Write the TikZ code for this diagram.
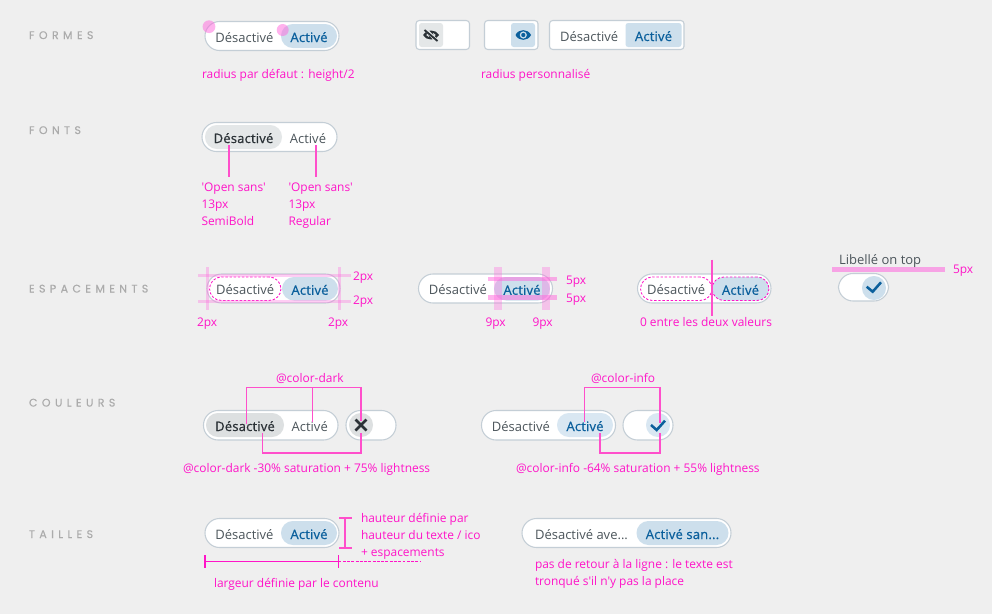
\documentclass[tikz,border=0pt]{standalone}
\usepackage{fontspec}
\setmainfont[Ligatures=TeXOff]{Open Sans}
\newfontfamily\headfont[LetterSpace=40,FakeBold=0.25]{Poppins}
\newfontfamily\semifont[FakeBold=0.7,LetterSpace=1.5]{Open Sans}
\definecolor{bg}{HTML}{EFEFEF}
\definecolor{rim}{HTML}{C4CED6}
\definecolor{txtgrey}{HTML}{4C555B}
\definecolor{darktxt}{HTML}{2A3136}
\definecolor{infotxt}{HTML}{0A5F9C}
\definecolor{infofill}{HTML}{CDDFEC}
\definecolor{infolight}{HTML}{D9E7F2}
\definecolor{darkfill}{HTML}{E4E7E8}
\definecolor{darkfilltwo}{HTML}{DDE0E1}
\definecolor{pk}{HTML}{FF14C8}
\definecolor{pkline}{HTML}{FF4FCB}
\definecolor{pkband}{HTML}{FF66DD}
\tikzset{
  base/.style={inner sep=0pt,outer sep=0pt},
  outerpill/.style={base,draw=rim,line width=.8pt,fill=white,rounded corners=10.9pt},
  outersq/.style={base,draw=rim,line width=.8pt,fill=white,rounded corners=2.4pt},
  seginner/.style={base,rounded corners=8.9pt,font=\fontsize{9.75pt}{12pt}\selectfont,text height=9pt,text depth=0pt},
  off/.style={seginner,text=txtgrey},
  on/.style={seginner,fill=infofill,text=infotxt,font=\fontsize{9.75pt}{12pt}\semifont},
  onlight/.style={on,fill=infolight},
  strong/.style={seginner,fill=darkfill,text=darktxt,font=\fontsize{9.75pt}{12pt}\semifont},
  strongtwo/.style={strong,fill=darkfilltwo},
  sq/.style={rounded corners=2pt},
  dashedpk/.style={draw=pk,line width=.65pt,dash pattern=on 1.8pt off 1.3pt},
  note/.style={base,anchor=west,text=pk,font=\fontsize{8.95pt}{10pt}\selectfont,text height=7pt,text depth=2pt,yshift=-0.75pt},
  head/.style={base,anchor=west,text=black!33,font=\fontsize{8.25pt}{10pt}\headfont,text height=6pt,text depth=0pt},
  lead/.style={draw=pkline,line width=1pt},
  band/.style={fill=pkband,opacity=.5,draw=none},
  thinband/.style={fill=pkband,opacity=.32,draw=none},
  icon/.style={line width=1.9pt,line cap=butt,line join=miter},
}
\newcommand{\seg}[7][off]{\node[#1,minimum width={(#5-#3)*0.75pt},minimum height={(#6-#4)*0.75pt}] (#2) at ({(#3+#5)/2},{(#4+#6)/2}) {#7};}
\newcommand{\note}[4]{\node[note] (#1) at (#2,#3) {#4};}
\begin{document}
\begin{tikzpicture}[x=0.75pt,y=-0.75pt]
\useasboundingbox (0,0) rectangle (992,614);
\fill[bg] (0,0) rectangle (992,614);

% section titles
\node[head] (h1) at (29,35) {FORMES};
\node[head] (h2) at (29,130) {FONTS};
\node[head] (h3) at (29,288.5) {ESPACEMENTS};
\node[head] (h4) at (29,402.5) {COULEURS};
\node[head] (h5) at (29,534) {TAILLES};

% FORMES
\seg[outerpill]{fa}{205}{21.5}{339}{50.5}{}
\seg{fal}{207.5}{24}{281.5}{48}{Désactivé}
\seg[on]{far}{281}{24}{337}{48}{Activé}
\node[circle,minimum size=9.6pt,band,base] (fc1) at (209,26.7) {};
\node[circle,minimum size=9pt,band,base] (fc2) at (282.7,30) {};
\note{fn1}{202}{74.5}{radius par défaut : height/2}

\seg[outersq]{fb}{416}{20.5}{469.5}{49.5}{}
\seg[off,fill=darkfill,sq]{fbi}{419}{23}{443}{47}{}
\seg[outersq]{fcc}{484.5}{20.5}{538}{49.5}{}
\seg[on,sq]{fci}{511}{23}{535}{47}{}
\seg[outersq]{fd}{549.5}{20.5}{684}{49.5}{}
\seg{fdl}{552.5}{23}{626}{47}{Désactivé}
\seg[on,sq]{fdr}{625.5}{23}{681.5}{47}{Activé}
\note{fn2}{481}{74.5}{radius personnalisé}
% eye off icon
\fill[darktxt,even odd rule] (423,35) .. controls (426,29) and (436,29) .. (439,35) .. controls (436,41) and (426,41) .. (423,35)
  (426,35) .. controls (428,32) and (434,32) .. (436,35) .. controls (434,38) and (428,38) .. (426,35);
\fill[darktxt] (431,35) circle[radius=2.4];
\draw[darkfill,line width=2.6pt] (425,29) -- (437,41);
\draw[darktxt,line width=1.4pt] (424.5,30) -- (437.5,41);
% eye icon
\fill[infotxt,even odd rule] (515.5,35) .. controls (518.5,28.5) and (528,28.5) .. (531,35) .. controls (528,41.5) and (518.5,41.5) .. (515.5,35)
  (523.3,35) circle[radius=3.7];
\fill[infotxt] (523.3,35) circle[radius=2.1];

% FONTS
\seg[outerpill]{ga}{202}{122.5}{337}{151.5}{}
\seg[strong]{gal}{205}{125}{282}{149}{Désactivé}
\seg{gar}{282}{125}{334}{149}{Activé}
\coordinate (g1a) at (229,145); \coordinate (g1b) at (229,177);
\coordinate (g2a) at (316,145); \coordinate (g2b) at (316,177);
\draw[lead] (g1a) -- (g1b);
\draw[lead] (g2a) -- (g2b);
\note{gn1}{201.5}{187}{'Open sans'}
\note{gn2}{201.5}{204}{13px}
\note{gn3}{201.5}{221}{SemiBold}
\note{gn4}{288.5}{187}{'Open sans'}
\note{gn5}{288.5}{204}{13px}
\note{gn6}{288.5}{221}{Regular}

% ESPACEMENTS 1
\seg[outerpill]{ea}{207}{274}{340}{303}{}
\seg[off,dashedpk,fill=white]{eal}{209.5}{277}{281}{300.5}{Désactivé}
\seg[on]{ear}{282}{277}{338}{300.5}{Activé}
\fill[thinband] (198,273.5) rectangle (351,276.5);
\fill[thinband] (198,300) rectangle (351,303);
\fill[thinband] (206,267) rectangle (209,310);
\fill[thinband] (337.5,267) rectangle (340.5,310);
\note{en1}{353}{276}{2px}
\note{en2}{353}{300}{2px}
\note{en3}{197}{322}{2px}
\note{en4}{328}{322}{2px}

% ESPACEMENTS 2
\seg[outerpill]{eb}{418.5}{274}{552.5}{303}{}
\seg{ebl}{421.5}{277}{494.5}{300.5}{Désactivé}
\seg[on]{ebr}{494}{277}{550}{300.5}{Activé}
\fill[thinband] (494,267) rectangle (502,310);
\fill[thinband] (542,267) rectangle (550,310);
\fill[band] (488,276.7) rectangle (557,281.3);
\fill[band] (488,295) rectangle (557,299.7);
\note{en5}{566}{280}{5px}
\note{en6}{566}{298}{5px}
\note{en7}{485.5}{322}{9px}
\note{en8}{532.5}{322}{9px}

% ESPACEMENTS 3
\seg[outerpill]{ec}{637.5}{274}{771}{303}{}
\seg[off,dashedpk,fill=white]{ecl}{640.5}{277}{712}{300.5}{Désactivé}
\seg[on,dashedpk]{ecr}{712}{277}{769}{300.5}{Activé}
\coordinate (e3a) at (712,259.5); \coordinate (e3b) at (712,316);
\draw[lead] (e3a) -- (e3b);
\note{en9}{640}{322}{0 entre les deux valeurs}

% Libelle on top
\node[base,anchor=west,text=txtgrey,font=\fontsize{9.75pt}{12pt}\selectfont,text height=7pt,text depth=2pt] (lb) at (839,261) {Libellé on top};
\fill[pkband,opacity=.55] (832,267) rectangle (945,271.7);
\note{ln}{953}{269}{5px}
\seg[outerpill]{lt}{838.5}{273.5}{888.5}{301}{}
\seg[on]{lti}{862}{276}{886}{300}{}
\draw[infotxt,icon] (866.7,286.7) -- (872.7,291.7) -- (881,282.3);

% COULEURS left
\seg[outerpill]{ca}{203.5}{410.5}{338}{440}{}
\seg[strongtwo]{cal}{206}{413}{284}{437}{Désactivé}
\seg{car}{284}{413}{335.5}{437}{Activé}
\seg[outerpill]{cb}{346}{410.5}{396}{440}{}
\seg[strongtwo]{cbi}{349}{413}{373}{437}{}
\draw[darktxt,line width=1.9pt] (355.5,419.5) -- (366.5,430.5);
\draw[darktxt,line width=1.9pt] (355.5,430.5) -- (366.5,419.5);
\coordinate (c1) at (246.7,424); \coordinate (c2) at (246.7,387.7); \coordinate (c3) at (361,387.7);
\coordinate (c4) at (361,421); \coordinate (c5) at (312.5,387.7); \coordinate (c6) at (312.5,422);
\draw[lead] (c1) -- (c2) -- (c3) -- (c4);
\draw[lead] (c5) -- (c6);
\coordinate (c7) at (262.5,433); \coordinate (c8) at (262.5,453); \coordinate (c9) at (361,453); \coordinate (c10) at (361,433);
\draw[lead] (c7) -- (c8) -- (c9) -- (c10);
\note{cn1}{276}{378}{@color-dark}
\note{cn2}{183}{468}{@color-dark -30\% saturation + 75\% lightness}

% COULEURS right
\seg[outerpill]{cc}{481.5}{410.5}{615.5}{440}{}
\seg{ccl}{484.5}{413}{557.5}{437}{Désactivé}
\seg[onlight]{ccr}{557}{413}{613}{437}{Activé}
\seg[outerpill]{cd}{623}{410.5}{673}{440}{}
\seg[onlight]{cdi}{646}{413}{670}{437}{}
\draw[infotxt,icon] (651,425) -- (656.7,430) -- (665,420.7);
\coordinate (d1) at (584.5,422); \coordinate (d2) at (584.5,387.7); \coordinate (d3) at (660,387.7); \coordinate (d4) at (660,423);
\draw[lead] (d1) -- (d2) -- (d3) -- (d4);
\coordinate (d5) at (600,433); \coordinate (d6) at (600,453); \coordinate (d7) at (660,453); \coordinate (d8) at (660,433);
\draw[lead] (d5) -- (d6) -- (d7) -- (d8);
\note{cn3}{591}{378}{@color-info}
\note{cn4}{516}{468}{@color-info -64\% saturation + 55\% lightness}

% TAILLES left
\seg[outerpill]{ta}{205}{518.5}{339}{547.5}{}
\seg{tal}{207.5}{521}{281.5}{545}{Désactivé}
\seg[on]{tar}{281}{521}{337}{545}{Activé}
\coordinate (t1) at (345,518); \coordinate (t2) at (345,548);
\draw[lead] (t1) -- (t2);
\draw[lead] (339,518) -- (351.5,518);
\draw[lead] (339,548) -- (351.5,548);
\note{tn1}{361}{518}{hauteur définie par}
\note{tn2}{361}{535}{hauteur du texte / ico}
\note{tn3}{361}{552}{+ espacements}
\coordinate (t3) at (205,561.7); \coordinate (t4) at (338.5,561.7); \coordinate (t5) at (420,561.7);
\draw[draw=pk,line width=.9pt] (t3) -- (t4);
\draw[draw=pk,line width=.9pt] (205,555) -- (205,568);
\draw[draw=pk,line width=.9pt] (338.5,555) -- (338.5,568);
\draw[draw=pk,line width=.6pt,dash pattern=on 2.2pt off 1pt] (t4) -- (t5);
\note{tn4}{214}{583}{largeur définie par le contenu}

% TAILLES right
\seg[outerpill]{tb}{522}{518.5}{731}{547.5}{}
\seg{tbl}{526}{521}{637}{545}{Désactivé ave...}
\seg[on]{tbr}{636.5}{521}{728.5}{545}{Activé san...}
\note{tn5}{535}{564}{pas de retour à la ligne : le texte est}
\note{tn6}{535}{581}{tronqué s'il n'y pas la place}
\end{tikzpicture}
\end{document}
